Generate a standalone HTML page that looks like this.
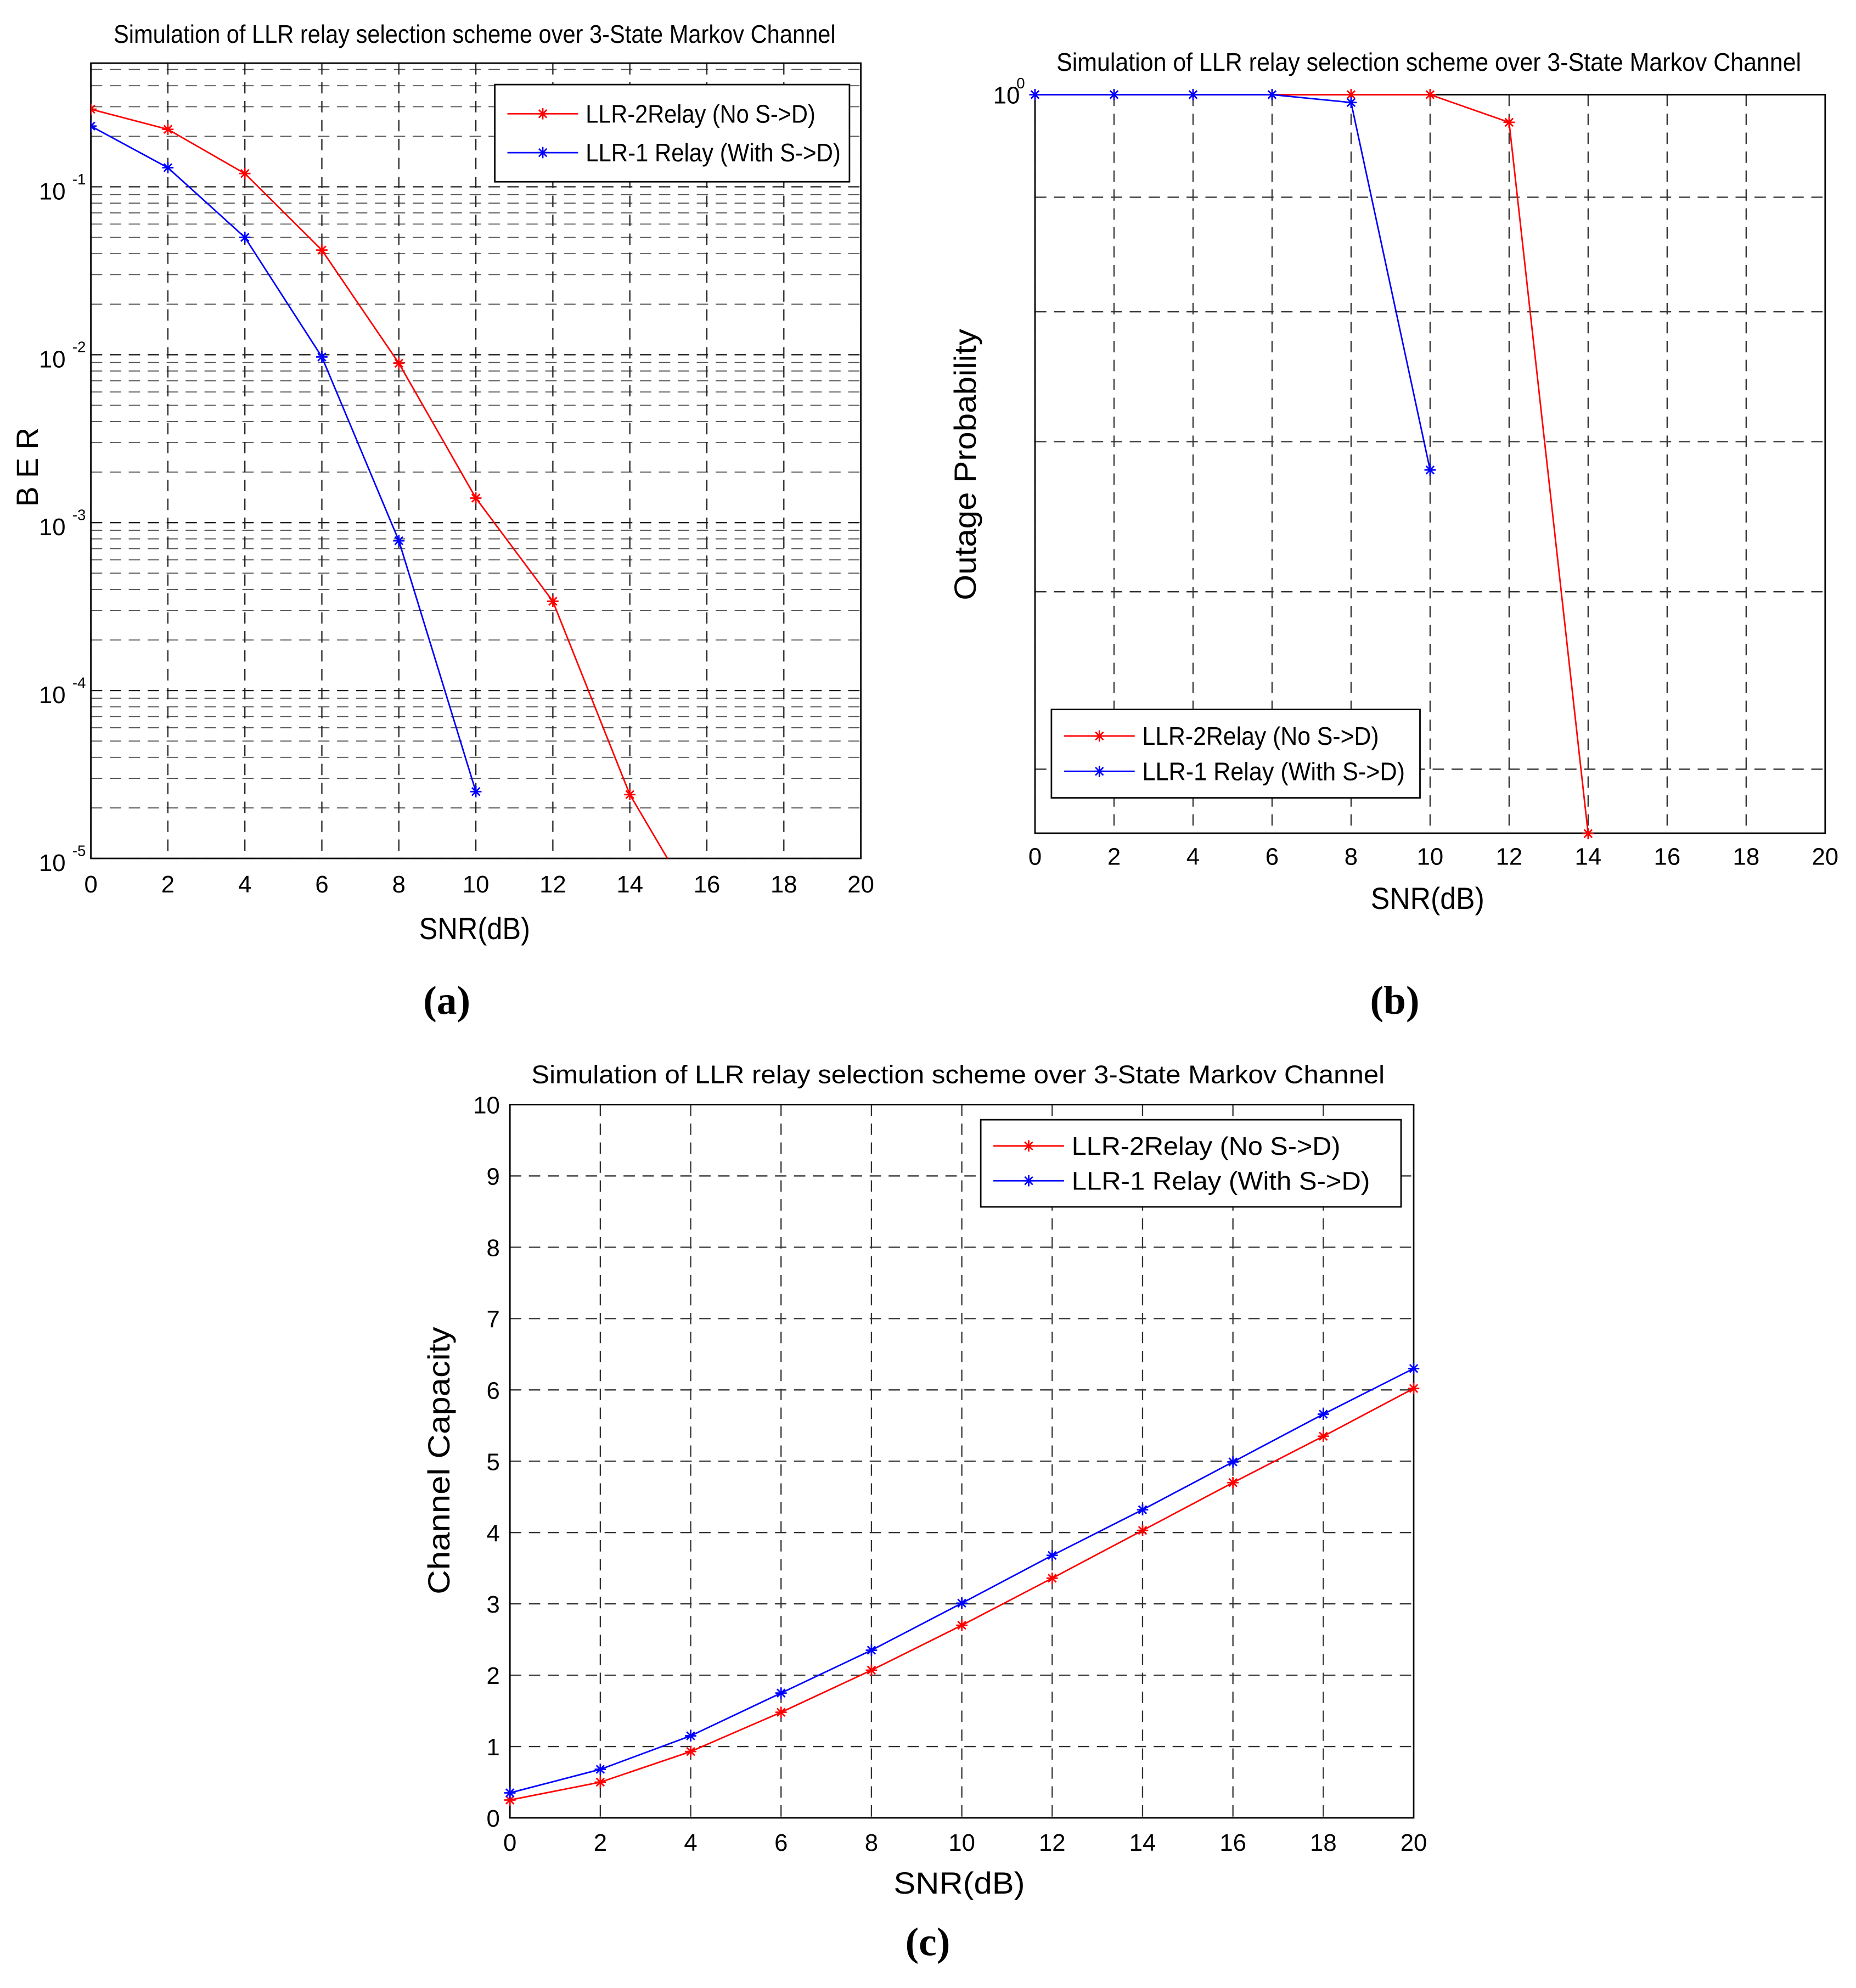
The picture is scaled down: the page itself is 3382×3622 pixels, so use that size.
<!DOCTYPE html>
<html><head><meta charset="utf-8"><style>
html,body{margin:0;padding:0;background:#fff}
svg{display:block}
text{font-family:"Liberation Sans Narrow","Liberation Sans",sans-serif;fill:#000}
.cap{font-family:"Liberation Serif",serif;font-weight:bold}
</style></head><body>
<svg id="fig" width="3382" height="3622" viewBox="0 0 1470.43 1574.78" preserveAspectRatio="none" xmlns="http://www.w3.org/2000/svg"></svg>
<script>
// ---- data ----
const snrA = [0,2,4,6,8,10,12,14,16];
const berNoSD = [0.29,0.22,0.12,0.042,0.0089,0.0014,0.00034,0.000024,0.000004];
const snrA1 = [0,2,4,6,8,10];
const berWithSD = [0.23,0.13,0.05,0.0097,0.00078,0.000025];
const snrB = [0,2,4,6,8,10,12,14];
const outNoSD = [1,1,1,1,1,1,0.972,0.468];
const snrB1 = [0,2,4,6,8,10];
const outWithSD = [1,1,1,1,0.992,0.68];
const snrC = [0,2,4,6,8,10,12,14,16,18,20];
const capNoSD = [0.25,0.5,0.93,1.48,2.07,2.7,3.36,4.03,4.7,5.35,6.02];
const capWithSD = [0.35,0.68,1.15,1.75,2.35,3.01,3.68,4.32,4.99,5.66,6.3];
const xTicks = [0,2,4,6,8,10,12,14,16,18,20];
const cTicksY = [0,1,2,3,4,5,6,7,8,9,10];
const legendLabels = ["LLR-2Relay (No S->D)","LLR-1 Relay (With S->D)"];
const legendWidths = [182,202];

const NS="http://www.w3.org/2000/svg";
const svg=document.getElementById('fig');
function mk(tag,attrs,parent){const e=document.createElementNS(NS,tag);for(const k in attrs)e.setAttribute(k,attrs[k]);(parent||svg).appendChild(e);return e;}
function txt(s,x,y,size,anchor,parent,extra){const t=mk('text',Object.assign({x:x,y:y,'font-size':size,'text-anchor':anchor||'middle'},extra||{}),parent);t.textContent=s;return t;}
function star(g,x,y,c){const r=4.5;mk('path',{d:`M${x-r},${y}H${x+r}M${x},${y-r}V${y+r}M${x-r*0.7},${y-r*0.7}L${x+r*0.7},${y+r*0.7}M${x-r*0.7},${y+r*0.7}L${x+r*0.7},${y-r*0.7}`,stroke:c,'stroke-width':1.2,fill:'none'},g);}
function series(g,xs,ys,sx,sy,c,name,clip){
  const s=mk('g',clip?{'clip-path':clip}:{},g);
  
  
  mk('polyline',{points:xs.map((x,i)=>sx(x)+','+sy(ys[i])).join(' '),fill:'none',stroke:c,'stroke-width':1.2},s);
  xs.forEach((x,i)=>star(s,sx(x),sy(ys[i]),c));
}
function legend(g,x,y,w,h,k){
  const l=mk('g',{},g);
  
  
  mk('rect',{x:x,y:y,width:w,height:h,fill:'#fff',stroke:'#000','stroke-width':1.2},l);
  const cols=['red','blue'];
  legendLabels.forEach((lab,i)=>{
    const yy=y+h*(0.3+0.4*i);
    const e=mk('g',{},l);
    
    
    mk('line',{x1:x+10,x2:x+66,y1:yy,y2:yy,stroke:cols[i],'stroke-width':1.2},e);
    star(e,x+38,yy,cols[i]);
    txt(lab,x+72,yy+7,20,'start',e,{textLength:legendWidths[i]*k,lengthAdjust:'spacingAndGlyphs'});
  });
}
function panel(name){const g=mk('g',{});return g;}
const dash={'stroke-dasharray':'9,6'};

// ---- (a) BER ----
(function(){
  const g=panel('ber-chart');
  const L=72,R=682,T=50,B=680;
  const sx=x=>L+(x/20)*(R-L);
  const dec=133,sy=v=>680-(Math.log10(v)+5)*dec;
  const cp=mk('clipPath',{id:'ca'},g);mk('rect',{x:L,y:T,width:R-L,height:B-T},cp);
  for(let e=-5;e<0;e++)for(let m=1;m<10;m++){const y=sy(m*Math.pow(10,e));if(y<T)continue;
    mk('line',Object.assign({x1:L,x2:R,y1:y,y2:y,stroke:m==1?'#222':'#555','stroke-width':m==1?1:0.8},dash),g);}
  xTicks.forEach(t=>{mk('line',Object.assign({x1:sx(t),x2:sx(t),y1:T,y2:B,stroke:'#222','stroke-width':1},dash),g);
    txt(String(t),sx(t),707,19,'middle',g);});
  [-1,-2,-3,-4,-5].forEach(e=>{const y=sy(Math.pow(10,e));
    txt('10',L-20,y+10,19,'end',g);txt(String(e),L-4,y-2,12,'end',g);});
  mk('rect',{x:L,y:T,width:R-L,height:B-T,fill:'none',stroke:'#000','stroke-width':1.2},g);
  series(g,snrA,berNoSD,sx,sy,'red','series-no-sd','url(#ca)');
  series(g,snrA1,berWithSD,sx,sy,'blue','series-with-sd','url(#ca)');
  legend(g,392,67,281,77,1);
  txt('Simulation of LLR relay selection scheme over 3-State Markov Channel',376,34,20,'middle',g,{textLength:572,lengthAdjust:'spacingAndGlyphs'});
  txt('SNR(dB)',376,744,24,'middle',g,{textLength:88,lengthAdjust:'spacingAndGlyphs'});
  txt('B E R',30,370,24,'middle',g,{transform:'rotate(-90 30 370)'});
  txt('(a)',354,803,32,'middle',g,{class:'cap'});
})();

// ---- (b) Outage ----
(function(){
  const g=panel('outage-chart');
  const L=820,R=1446,T=75,B=660;
  const sx=x=>L+(x/20)*(R-L);
  const sy=v=>T-Math.log10(v)*1775;
  const cp=mk('clipPath',{id:'cb'},g);mk('rect',{x:L-6,y:T-6,width:R-L+12,height:B-T+12},cp);
  [0.5,0.6,0.7,0.8,0.9].forEach(v=>mk('line',Object.assign({x1:L,x2:R,y1:sy(v),y2:sy(v),stroke:'#333','stroke-width':1},dash),g));
  xTicks.forEach(t=>{mk('line',Object.assign({x1:sx(t),x2:sx(t),y1:T,y2:B,stroke:'#333','stroke-width':1},dash),g);
    txt(String(t),sx(t),685,19,'middle',g);});
  txt('10',808,82,19,'end',g);txt('0',812,70,12,'end',g);
  mk('rect',{x:L,y:T,width:R-L,height:B-T,fill:'none',stroke:'#000','stroke-width':1.2},g);
  series(g,snrB,outNoSD,sx,sy,'red','series-no-sd','url(#cb)');
  series(g,snrB1,outWithSD,sx,sy,'blue','series-with-sd','url(#cb)');
  legend(g,833,562,292,70,1.03);
  txt('Simulation of LLR relay selection scheme over 3-State Markov Channel',1132,56,20,'middle',g,{textLength:590,lengthAdjust:'spacingAndGlyphs'});
  txt('SNR(dB)',1131,720,24,'middle',g,{textLength:90,lengthAdjust:'spacingAndGlyphs'});
  txt('Outage Probability',773,368,24,'middle',g,{transform:'rotate(-90 773 368)',textLength:215,lengthAdjust:'spacingAndGlyphs'});
  txt('(b)',1105,803,32,'middle',g,{class:'cap'});
})();

// ---- (c) Capacity ----
(function(){
  const g=panel('capacity-chart');
  const L=404,R=1120,T=875,B=1440;
  const sx=x=>L+(x/20)*(R-L);
  const sy=v=>B-(v/10)*(B-T);
  cTicksY.forEach(v=>{if(v>0&&v<10)mk('line',Object.assign({x1:L,x2:R,y1:sy(v),y2:sy(v),stroke:'#333','stroke-width':1},dash),g);
    txt(String(v),L-8,sy(v)+7,19,'end',g);});
  xTicks.forEach(t=>{if(t>0&&t<20)mk('line',Object.assign({x1:sx(t),x2:sx(t),y1:T,y2:B,stroke:'#333','stroke-width':1},dash),g);
    txt(String(t),sx(t),1466,19,'middle',g);});
  mk('rect',{x:L,y:T,width:R-L,height:B-T,fill:'none',stroke:'#000','stroke-width':1.2},g);
  series(g,snrC,capNoSD,sx,sy,'red','series-no-sd','');
  series(g,snrC,capWithSD,sx,sy,'blue','series-with-sd','');
  legend(g,777,887,333,69,1.17);
  txt('Simulation of LLR relay selection scheme over 3-State Markov Channel',759,858,20,'middle',g,{textLength:676,lengthAdjust:'spacingAndGlyphs'});
  txt('SNR(dB)',760,1500,24,'middle',g,{textLength:104,lengthAdjust:'spacingAndGlyphs'});
  txt('Channel Capacity',356,1157,24,'middle',g,{transform:'rotate(-90 356 1157)',textLength:212,lengthAdjust:'spacingAndGlyphs'});
  txt('(c)',735,1549,32,'middle',g,{class:'cap'});
})();
</script>
</body></html>
